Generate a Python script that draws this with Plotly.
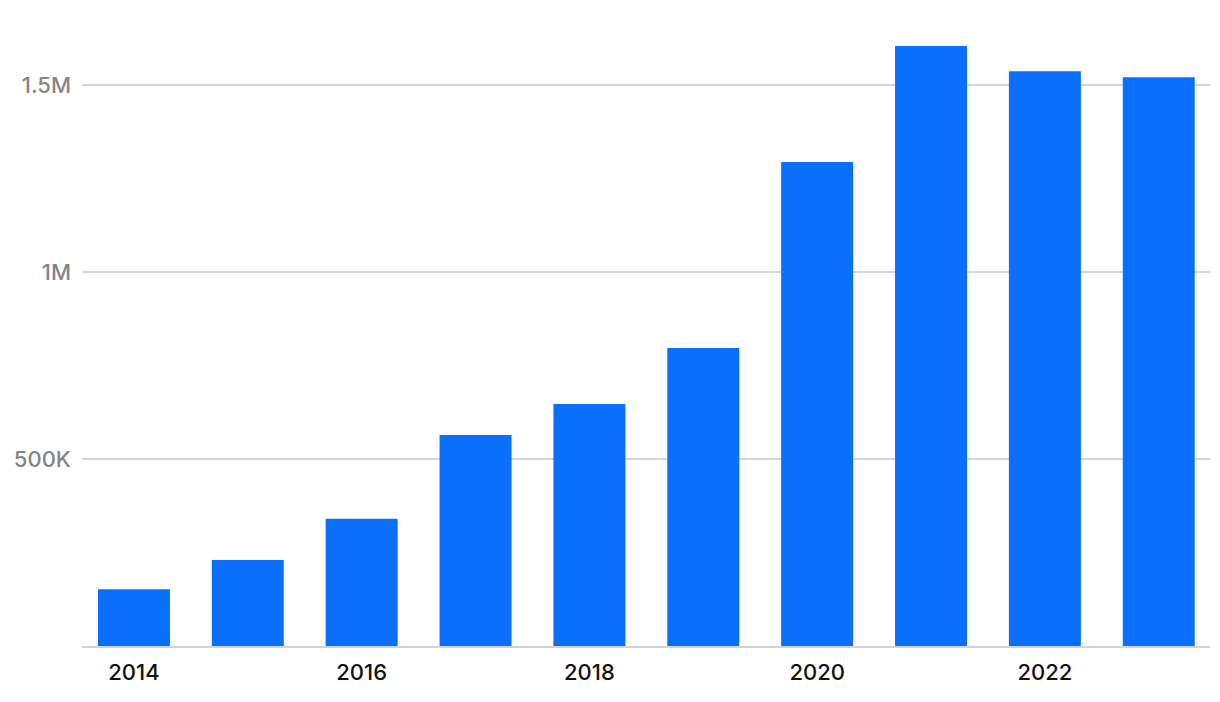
import plotly.graph_objects as go

years = [2014, 2015, 2016, 2017, 2018, 2019, 2020, 2021, 2022, 2023]
values = [152000, 230000, 340000, 564000, 647000, 797000, 1294000, 1604000, 1537000, 1521000]
x_tick_vals = [2014, 2016, 2018, 2020, 2022]
x_tick_text = ["2014", "2016", "2018", "2020", "2022"]
y_tick_vals = [500000, 1000000, 1500000]
y_tick_text = ["500K", "1M", "1.5M"]

fig = go.Figure(go.Bar(x=years, y=values, width=0.632, marker=dict(color="#0A6FFA", line=dict(width=0))))

fig.update_layout(
    width=1220, height=702,
    margin=dict(l=82, r=10, t=20, b=56, autoexpand=False),
    plot_bgcolor="white", paper_bgcolor="white",
    showlegend=False,
    font=dict(family="Inter", size=22),
)
fig.update_xaxes(
    range=[2013.544, 2023.45],
    tickvals=x_tick_vals, ticktext=x_tick_text,
    tickfont=dict(color="#111111", size=22, family="Inter", weight=500),
    showgrid=False, showline=True, linecolor="#d3d3d3", linewidth=2,
    ticks="", ticklabelstandoff=6, automargin=False,
)
fig.update_yaxes(
    range=[0, 1673800],
    tickvals=y_tick_vals, ticktext=y_tick_text,
    tickfont=dict(color="#858585", size=22, family="Inter", weight=500),
    showgrid=True, gridcolor="#d6d6d6", gridwidth=1.5,
    zeroline=False, ticks="", ticklabelstandoff=10, automargin=False,
)

fig.write_html("out.html")
